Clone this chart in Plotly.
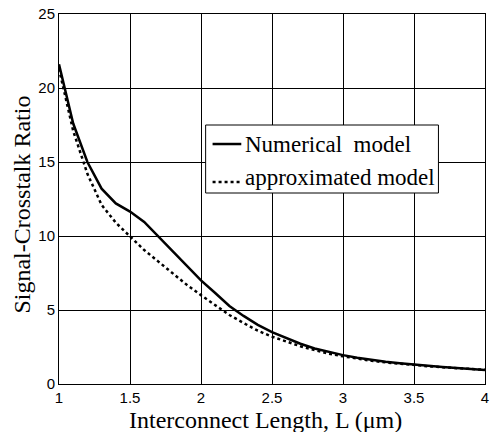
import plotly.graph_objects as go

L = [1.0, 1.1, 1.2, 1.3, 1.4, 1.5, 1.6, 1.7, 1.8, 1.9, 2.0, 2.1, 2.2, 2.3, 2.4, 2.5,
     2.6, 2.7, 2.8, 2.9, 3.0, 3.1, 3.2, 3.3, 3.4, 3.5, 3.6, 3.7, 3.8, 3.9, 4.0]
numerical = [21.6, 17.6, 15.0, 13.2, 12.2, 11.65, 10.95, 9.95, 8.95, 7.95, 7.0, 6.15, 5.27, 4.6, 4.0, 3.5,
             3.1, 2.72, 2.4, 2.15, 1.95, 1.78, 1.63, 1.5, 1.4, 1.3, 1.22, 1.15, 1.08, 1.02, 0.95]
approximated = [21.3, 17.1, 14.2, 12.1, 10.9, 9.95, 9.05, 8.27, 7.48, 6.7, 6.0, 5.34, 4.66, 4.12, 3.6, 3.2,
                2.85, 2.55, 2.3, 2.05, 1.87, 1.71, 1.57, 1.46, 1.36, 1.27, 1.2, 1.13, 1.07, 1.01, 0.96]
x_ticks = [1, 1.5, 2, 2.5, 3, 3.5, 4]
x_tick_labels = ["1", "1.5", "2", "2.5", "3", "3.5", "4"]
y_ticks = [0, 5, 10, 15, 20, 25]
series_names = ["Numerical  model", "approximated model"]
x_title = "Interconnect Length, L (\u03bcm)"
y_title = "Signal-Crosstalk Ratio"

serif = "Liberation Serif, Times New Roman, serif"
sans = "Liberation Sans, Arial, sans-serif"

fig = go.Figure()
fig.add_trace(go.Scatter(x=L, y=numerical, mode="lines", name=series_names[0], showlegend=False,
                         line=dict(color="black", width=2.5)))
fig.add_trace(go.Scatter(x=L, y=approximated, mode="lines", name=series_names[1], showlegend=False,
                         line=dict(color="black", width=2.5, dash="dot")))

# manual legend (box, line samples, labels) in paper coordinates
fig.add_shape(type="rect", xref="paper", yref="paper", x0=0.3442, x1=0.8907, y0=0.5162, y1=0.700,
              line=dict(color="black", width=1), fillcolor="white", layer="above")
fig.add_shape(type="line", xref="paper", yref="paper", x0=0.3605, x1=0.4279, y0=0.6486, y1=0.6486,
              line=dict(color="black", width=2.5))
fig.add_shape(type="line", xref="paper", yref="paper", x0=0.3605, x1=0.4279, y0=0.5459, y1=0.5459,
              line=dict(color="black", width=2.5, dash="dot"))
fig.add_annotation(xref="paper", yref="paper", x=0.4326, y=0.6486, xanchor="left", yanchor="middle",
                   text=series_names[0], showarrow=False,
                   font=dict(family=serif, size=23, color="black"))
fig.add_annotation(xref="paper", yref="paper", x=0.4326, y=0.5590, xanchor="left", yanchor="middle",
                   text=series_names[1], showarrow=False,
                   font=dict(family=serif, size=23, color="black"))

# axis titles
fig.add_annotation(xref="paper", yref="paper", x=0.4837, y=-0.0973, xanchor="center", yanchor="middle",
                   text=x_title, showarrow=False, font=dict(family=serif, size=24, color="black"))
fig.add_annotation(xref="paper", yref="paper", x=-0.086, y=0.486, xanchor="center", yanchor="middle",
                   textangle=-90, text=y_title, showarrow=False,
                   font=dict(family=serif, size=24, color="black"))

fig.update_layout(
    width=490, height=432,
    margin=dict(l=59, r=1, t=14, b=48),
    paper_bgcolor="white", plot_bgcolor="white",
    showlegend=False,
    xaxis=dict(range=[1, 4], tickvals=x_ticks, ticktext=x_tick_labels,
               showgrid=True, gridcolor="black", gridwidth=1,
               showline=True, linecolor="black", linewidth=1, mirror="ticks",
               ticks="inside", ticklen=4, tickcolor="black", ticklabeloverflow="allow",
               tickfont=dict(family=sans, size=15, color="black"),
               zeroline=False),
    yaxis=dict(range=[0, 25], tickvals=y_ticks,
               showgrid=True, gridcolor="black", gridwidth=1,
               showline=True, linecolor="black", linewidth=1, mirror="ticks",
               ticks="inside", ticklen=4, tickcolor="black",
               tickfont=dict(family=sans, size=15, color="black"),
               zeroline=False),
)

fig.write_html("out.html")
